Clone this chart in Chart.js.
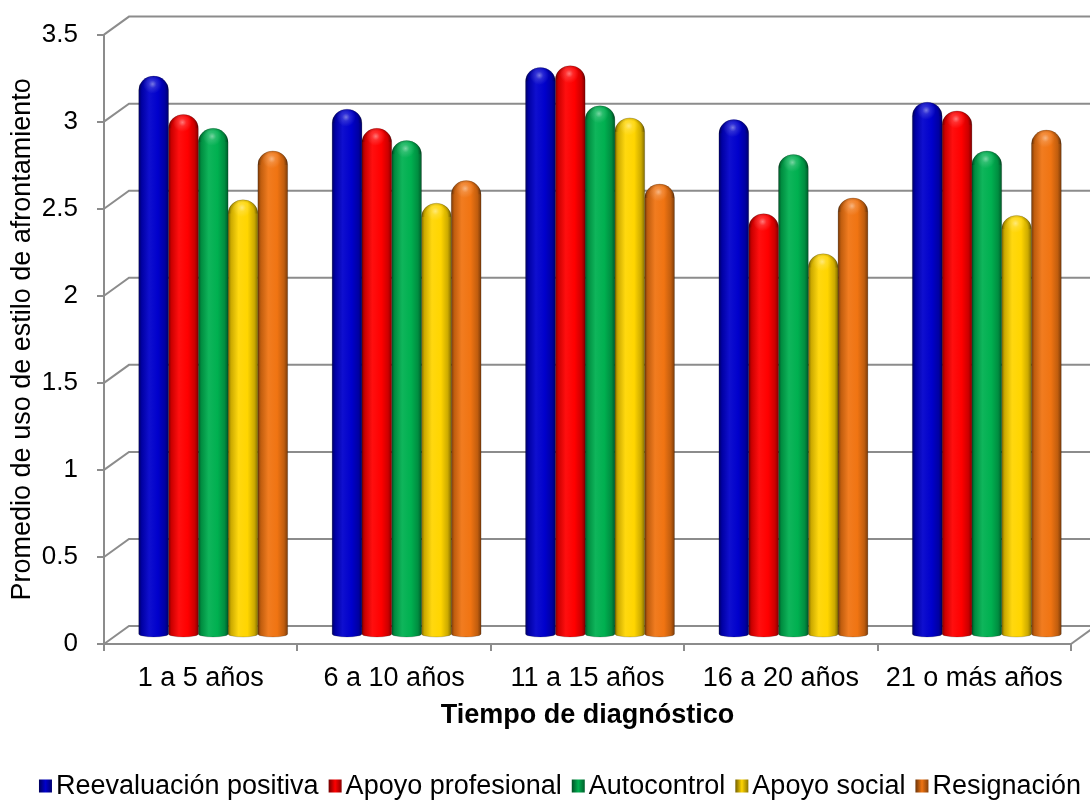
<!DOCTYPE html>
<html>
<head>
<meta charset="utf-8">
<script src="https://cdn.jsdelivr.net/npm/chart.js@4.4.1/dist/chart.umd.min.js"></script>
<style>
  html, body { margin: 0; padding: 0; background: #ffffff; }
  #wrap { width: 1090px; height: 804px; }
</style>
</head>
<body>
<div id="wrap"><canvas id="c" width="1090" height="804"></canvas></div>
<script>
// Coping-style averages by time since diagnosis
const categories = ['1 a 5 años', '6 a 10 años', '11 a 15 años', '16 a 20 años', '21 o más años'];
const seriesNames = ['Reevaluación positiva', 'Apoyo profesional', 'Autocontrol', 'Apoyo social', 'Resignación'];
const reevaluacionPositiva = [3.21, 3.02, 3.26, 2.96, 3.06];
const apoyoProfesional     = [2.99, 2.91, 3.27, 2.42, 3.01];
const autocontrol          = [2.91, 2.84, 3.04, 2.76, 2.78];
const apoyoSocial          = [2.50, 2.48, 2.97, 2.19, 2.41];
const resignacion          = [2.78, 2.61, 2.59, 2.51, 2.90];
const yTicks = [0, 0.5, 1, 1.5, 2, 2.5, 3, 3.5];

const seriesColors = ['#0000CC', '#FF0000', '#00B050', '#FFD500', '#F07412'];
const seriesValues = [reevaluacionPositiva, apoyoProfesional, autocontrol, apoyoSocial, resignacion];

// depth of the 3D box (back wall offset); columns sit at half depth
const DEPTH_X = 25, DEPTH_Y = -18;
const GRID = '#8c8c8c';
const FONT = "'Liberation Sans', Arial, sans-serif";

function shade(hex, f) {
  const n = parseInt(hex.slice(1), 16);
  let r = (n >> 16) & 255, g = (n >> 8) & 255, b = n & 255;
  const m = v => Math.max(0, Math.min(255, Math.round(f >= 1 ? v + (255 - v) * (f - 1) : v * f)));
  return `rgb(${m(r)},${m(g)},${m(b)})`;
}

function drawCylinder(ctx, x, top, base, w, color) {
  const l = x - w / 2, r = x + w / 2;
  const capH = Math.min(14, (base - top) / 2);
  const g = ctx.createLinearGradient(l, 0, r, 0);
  g.addColorStop(0.00, shade(color, 0.50));
  g.addColorStop(0.10, shade(color, 0.80));
  g.addColorStop(0.35, shade(color, 1.06));
  g.addColorStop(0.65, color);
  g.addColorStop(0.88, shade(color, 0.80));
  g.addColorStop(1.00, shade(color, 0.52));
  ctx.beginPath();
  ctx.moveTo(l, base);
  ctx.lineTo(l, top + capH);
  ctx.ellipse(x, top + capH, w / 2, capH, 0, Math.PI, 2 * Math.PI);
  ctx.lineTo(r, base);
  ctx.ellipse(x, base, w / 2, 3, 0, 0, Math.PI);
  ctx.closePath();
  ctx.fillStyle = g;
  ctx.fill();
  ctx.strokeStyle = 'rgba(0,0,0,0.18)';
  ctx.lineWidth = 1;
  ctx.stroke();
  // rounded top: darker rim + highlight spot
  ctx.save();
  ctx.beginPath();
  ctx.ellipse(x, top + capH, w / 2, capH, 0, Math.PI, 2 * Math.PI);
  ctx.closePath();
  ctx.clip();
  const rim = ctx.createRadialGradient(x, top + capH, 0, x, top + capH, w / 2);
  rim.addColorStop(0.0, 'rgba(0,0,0,0)');
  rim.addColorStop(0.75, 'rgba(0,0,0,0)');
  rim.addColorStop(1.0, 'rgba(0,0,0,0.22)');
  ctx.fillStyle = rim;
  ctx.fillRect(l, top, w, capH);
  ctx.restore();
  const hl = ctx.createRadialGradient(x - 1, top + 8, 0, x - 1, top + 8, w * 0.32);
  hl.addColorStop(0, 'rgba(255,255,255,0.45)');
  hl.addColorStop(0.4, 'rgba(255,255,255,0.15)');
  hl.addColorStop(1, 'rgba(255,255,255,0)');
  ctx.fillStyle = hl;
  ctx.beginPath();
  ctx.arc(x - 1, top + 8, w * 0.32, 0, 2 * Math.PI);
  ctx.fill();
}

// back wall gridlines, depth connectors and floor edges
const wallPlugin = {
  id: 'wall',
  beforeDatasetsDraw(chart) {
    const { ctx, chartArea: a, scales: { y } } = chart;
    ctx.save();
    ctx.strokeStyle = GRID;
    ctx.lineWidth = 2;
    yTicks.forEach(v => {
      const py = y.getPixelForValue(v);
      ctx.beginPath();
      ctx.moveTo(a.left, py);
      ctx.lineTo(a.left + DEPTH_X, py + DEPTH_Y);
      ctx.lineTo(chart.width + 5, py + DEPTH_Y);
      ctx.stroke();
    });
    ctx.beginPath();
    ctx.moveTo(a.right, a.bottom);
    ctx.lineTo(a.right + DEPTH_X, a.bottom + DEPTH_Y);
    ctx.stroke();
    ctx.restore();
  }
};

// columns drawn as shaded cylinders at mid depth
const cylinderPlugin = {
  id: 'cylinders',
  beforeDatasetDraw(chart, args) {
    const { ctx } = chart;
    const meta = args.meta;
    const color = chart.data.datasets[args.index].backgroundColor;
    ctx.save();
    ctx.translate(DEPTH_X / 2, DEPTH_Y / 2);
    meta.data.forEach(el => {
      const p = el.getProps(['x', 'y', 'base', 'width'], true);
      drawCylinder(ctx, p.x, p.y, p.base, p.width, color);
    });
    ctx.restore();
    return false;
  }
};

// legend row with bevelled swatches
const legendPlugin = {
  id: 'bevelLegend',
  afterDraw(chart) {
    const { ctx } = chart;
    ctx.save();
    ctx.font = `27px ${FONT}`;
    ctx.textBaseline = 'middle';
    ctx.textAlign = 'left';
    const box = 13, gapBox = 4, gapItem = 10, cy = 786;
    const items = chart.data.datasets.map(d => ({ text: d.label, color: d.backgroundColor, w: ctx.measureText(d.label).width }));
    const total = items.reduce((s, it) => s + box + gapBox + it.w, 0) + gapItem * (items.length - 1);
    let x = 560 - total / 2;
    items.forEach(it => {
      const top = cy - box / 2;
      const g = ctx.createLinearGradient(x, 0, x + box, 0);
      g.addColorStop(0, shade(it.color, 0.45));
      g.addColorStop(0.5, it.color);
      g.addColorStop(1, shade(it.color, 0.55));
      ctx.fillStyle = g;
      ctx.fillRect(x, top, box, box);
      ctx.fillStyle = '#000';
      ctx.fillText(it.text, x + box + gapBox, cy + 1);
      x += box + gapBox + it.w + gapItem;
    });
    ctx.restore();
  }
};

Chart.defaults.font.family = FONT;
Chart.defaults.color = '#000';

new Chart(document.getElementById('c'), {
  type: 'bar',
  data: {
    labels: categories,
    datasets: seriesNames.map((name, i) => ({
      label: name,
      data: seriesValues[i],
      backgroundColor: seriesColors[i],
      categoryPercentage: 0.77,
      barPercentage: 1.0
    }))
  },
  options: {
    responsive: false,
    devicePixelRatio: 1,
    animation: false,
    layout: { padding: { left: 0, top: 31, right: 19, bottom: 60 } },
    plugins: { legend: { display: false }, tooltip: { enabled: false } },
    scales: {
      x: {
        type: 'category',
        offset: true,
        afterFit: s => { s.height = 100; },
        grid: { drawOnChartArea: false, drawTicks: true, tickLength: 7, color: GRID, lineWidth: 2, offset: true },
        border: { display: true, color: GRID, width: 2 },
        ticks: { font: { size: 27 }, padding: 11, color: '#000' },
        title: { display: true, text: 'Tiempo de diagnóstico', font: { size: 27, weight: 'bold' }, padding: { top: 0, bottom: 12 }, color: '#000' }
      },
      y: {
        min: 0,
        max: 3.5,
        afterFit: s => { s.width = 104; },
        afterBuildTicks: s => { s.ticks = yTicks.map(v => ({ value: v })); },
        grid: { drawOnChartArea: false, drawTicks: true, tickLength: 7, color: GRID, lineWidth: 2 },
        border: { display: true, color: GRID, width: 2 },
        ticks: { font: { size: 26 }, padding: 19, color: '#000', callback: v => String(v) },
        title: { display: true, text: 'Promedio de uso de estilo de afrontamiento', font: { size: 27 }, padding: { top: 6, bottom: 0 }, color: '#000' }
      }
    }
  },
  plugins: [wallPlugin, cylinderPlugin, legendPlugin]
});
</script>
</body>
</html>
